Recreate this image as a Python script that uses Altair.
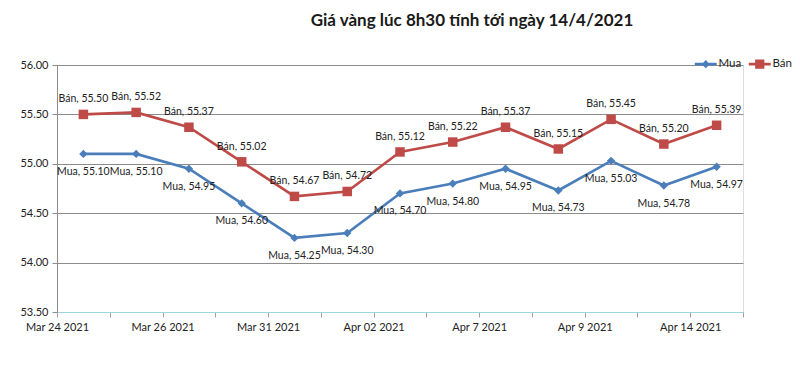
import json
import altair as alt
import pandas as pd

# ---- data ----
series = ["Mua", "Bán"]
mua = [55.10, 55.10, 54.95, 54.60, 54.25, 54.30, 54.70, 54.80, 54.95, 54.73, 55.03, 54.78, 54.97]
ban = [55.50, 55.52, 55.37, 55.02, 54.67, 54.72, 55.12, 55.22, 55.37, 55.15, 55.45, 55.20, 55.39]
tick_labels = ["Mar 24 2021", "Mar 26 2021", "Mar 31 2021", "Apr 02 2021",
               "Apr 7 2021", "Apr 9 2021", "Apr 14 2021"]
y_ticks = [53.5, 54.0, 54.5, 55.0, 55.5, 56.0]
colors = ["#4A7EBB", "#BE4B48"]

rows = []
for name, vals in zip(series, [mua, ban]):
    for i, v in enumerate(vals):
        rows.append({"i": i, "series": name, "marker": name, "key": name, "value": v,
                     "label": f"{name}, {v:.2f}"})
df = pd.DataFrame(rows)

FONT = "Lato"
n = len(mua)
boundaries = [k - 0.5 for k in range(n + 1)]
label_expr = (f"(datum.value + 0.5) % 2 == 0 ? {json.dumps(tick_labels)}"
              f"[(datum.value + 0.5) / 2] : ''")

x = alt.X("i:Q",
          scale=alt.Scale(domain=[-0.5, n - 0.5], nice=False, zero=False),
          axis=alt.Axis(values=boundaries, labelExpr=label_expr, title=None, grid=False,
                        domainColor="#9ED3E2", domainWidth=1.2, tickColor="#9aa5a8",
                        tickSize=5, labelPadding=4, labelOverlap=False, labelFlush=False,
                        labelFont=FONT, labelFontSize=11, labelColor="#222"))
y = alt.Y("value:Q",
          scale=alt.Scale(domain=[53.5, 56.0], nice=False, zero=False),
          axis=alt.Axis(values=y_ticks, format=".2f", title=None, grid=True,
                        gridColor="#8C8C8C", gridWidth=1, domainColor="#8C8C8C",
                        tickColor="#8C8C8C", tickSize=5, labelPadding=4,
                        labelFont=FONT, labelFontSize=11, labelColor="#222"))

lines = alt.Chart(df).mark_line(strokeWidth=2.6).encode(
    x=x, y=y,
    stroke=alt.Stroke("series:N", scale=alt.Scale(domain=series, range=colors), legend=None),
    detail="series:N",
)

pts = alt.Chart(df).mark_point(filled=True, opacity=1).encode(
    x=x, y=y,
    fill=alt.Fill("marker:N", scale=alt.Scale(domain=series, range=colors), legend=None),
    shape=alt.Shape("marker:N", scale=alt.Scale(domain=series, range=["diamond", "square"]),
                    legend=None),
    size=alt.Size("marker:N", scale=alt.Scale(domain=series, range=[70, 90]), legend=None),
)

# legend-only layer: symbols are a line segment with the series marker on it
LINE = "M-3.1,-0.36H3.1V0.36H-3.1Z"
sym_mua = LINE + "M0,-1.15L1.15,0L0,1.15L-1.15,0Z"
sym_ban = LINE + "M-1.3,-1.3H1.3V1.3H-1.3Z"
leg = alt.Legend(orient="none", legendX=643, legendY=-7, direction="horizontal",
                 title=None, symbolSize=50, symbolStrokeWidth=0, symbolOpacity=1,
                 labelOffset=7, columnPadding=6, padding=0, labelFont=FONT,
                 labelFontSize=11.5, labelColor="#222")
legend_layer = alt.Chart(df).transform_filter(alt.datum.i < 0).mark_point(
    filled=True).encode(
    x=x, y=y,
    fill=alt.Fill("key:N", sort=series, scale=alt.Scale(domain=series, range=colors),
                  legend=leg),
    shape=alt.Shape("key:N", sort=series,
                    scale=alt.Scale(domain=series, range=[sym_mua, sym_ban]), legend=leg),
)

txt_ban = alt.Chart(df).transform_filter(alt.datum.series == "Bán").mark_text(
    font=FONT, fontSize=10.5, color="#222", dy=-15).encode(x=x, y=y, text="label:N")
txt_mua = alt.Chart(df).transform_filter(alt.datum.series == "Mua").mark_text(
    font=FONT, fontSize=10.5, color="#222", dy=18).encode(x=x, y=y, text="label:N")

chart = alt.layer(lines, pts, legend_layer, txt_ban, txt_mua).resolve_scale(
    shape="independent", fill="independent"
).properties(
    width=686, height=247,
    padding={"left": 49, "top": 57, "right": 49, "bottom": 28},
    autosize=alt.AutoSizeParams(type="none"),
    title=alt.TitleParams("Giá vàng lúc 8h30 tính tới ngày 14/4/2021", font=FONT,
                          fontSize=17, fontWeight="bold", color="#1a1a1a",
                          anchor="middle", frame="group", dx=72, offset=28),
).configure_view(stroke=None).configure(background="white")

chart.save("out.html", embed_options={"renderer": "svg", "actions": False})
